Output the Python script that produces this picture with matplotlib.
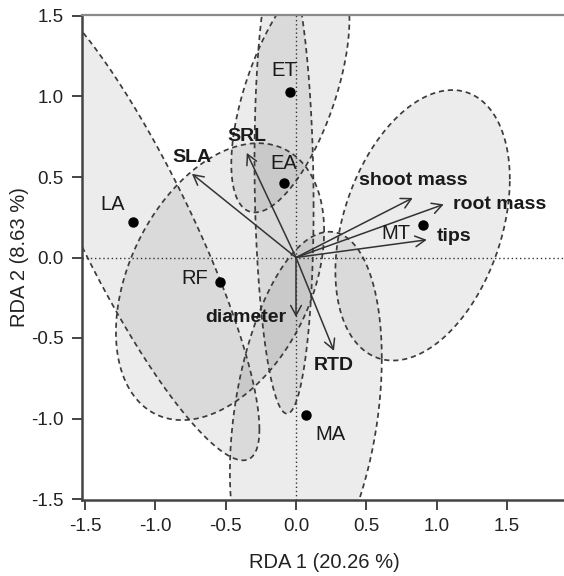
import numpy as np
import matplotlib.pyplot as plt

plt.rcParams['font.family'] = ['Liberation Sans', 'DejaVu Sans']

# group centroids (RDA site scores)
sites = ["ET", "EA", "LA", "RF", "MT", "MA"]
site_x = [-0.04, -0.085, -1.16, -0.54, 0.90, 0.07]
site_y = [1.03, 0.46, 0.22, -0.15, 0.20, -0.98]

# spread of each group ellipse: half extent in x, half extent in y, correlation
ell_sx = [0.42, 0.21, 0.90, 0.74, 0.62, 0.54]
ell_sy = [0.75, 1.43, 1.48, 0.86, 0.84, 1.14]
ell_rho = [0.60, -0.10, -0.87, 0.365, 0.34, 0.31]

# trait vectors
traits = ["SLA", "SRL", "shoot mass", "root mass", "tips", "diameter", "RTD"]
trait_x = [-0.74, -0.35, 0.83, 1.05, 0.93, 0.0, 0.27]
trait_y = [0.52, 0.65, 0.37, 0.33, 0.11, -0.37, -0.58]

ticks = [-1.5, -1.0, -0.5, 0.0, 0.5, 1.0, 1.5]

# label placement (pixels from point / arrow tip)
site_off = [(-6, 21), (0, 20), (-20, 18), (-25, 3), (-27, -8), (25, -19)]
trait_off = [(0, 16), (0, 16), (0, 17), (9, 0), (10, 3), (-10, 0), (0, -15)]
trait_ha = ["center", "center", "center", "left", "left", "right", "center"]

fig = plt.figure(figsize=(5.64, 5.76), dpi=100)
ax = fig.add_axes([82 / 564, 1 - 500 / 576, (564 - 82) / 564, (500 - 15) / 576])

t = np.linspace(0, 2 * np.pi, 300)
outlines = []
for cx, cy, sx, sy, r in zip(site_x, site_y, ell_sx, ell_sy, ell_rho):
    ex = cx + sx * np.cos(t)
    ey = cy + sy * (r * np.cos(t) + np.sqrt(1 - r ** 2) * np.sin(t))
    ax.fill(ex, ey, color=(0, 0, 0, 0.075), lw=0)
    outlines.append((ex, ey))
for ex, ey in outlines:
    ax.plot(ex, ey, color="#3c3c3c", lw=1.25, ls=(0, (3, 2.2)))

ax.axhline(0, color="#333333", lw=1.0, ls=(0, (1, 2)))
ax.axvline(0, color="#333333", lw=1.0, ls=(0, (1, 2)))

for name, x, y, off, ha in zip(traits, trait_x, trait_y, trait_off, trait_ha):
    ax.annotate("", xy=(x, y), xytext=(0, 0),
                arrowprops=dict(arrowstyle="->,head_length=0.6,head_width=0.32",
                                color="#333333", lw=1.1, mutation_scale=12,
                                shrinkA=0, shrinkB=0))
    ax.annotate(name, xy=(x, y), xytext=off, textcoords="offset pixels",
                ha=ha, va="center", fontsize=14, fontweight="bold", color="#1a1a1a")

ax.plot(site_x, site_y, "o", color="black", ms=6.5)
for name, x, y, off in zip(sites, site_x, site_y, site_off):
    ax.annotate(name, xy=(x, y), xytext=off, textcoords="offset pixels",
                ha="center", va="center", fontsize=14.5, color="#1a1a1a")

ax.set_xlim((82 - 296) / 140.67, (564 - 296) / 140.67)
ax.set_ylim((257.5 - 500) / 161, (257.5 - 15) / 161)
ax.set_xticks(ticks)
ax.set_yticks(ticks)
ax.set_xticklabels([f"{v:.1f}" for v in ticks])
ax.set_yticklabels([f"{v:.1f}" for v in ticks])
ax.tick_params(length=7, width=1.4, color="#444444", labelsize=13.5,
               labelcolor="#222222", pad=6)
ax.spines["right"].set_visible(False)
ax.spines["top"].set_color("#8a8a8a")
ax.spines["top"].set_linewidth(1.6)
for s in ["left", "bottom"]:
    ax.spines[s].set_color("#444444")
    ax.spines[s].set_linewidth(1.8)

fig.text(20 / 564, 1 - 257 / 576, "RDA 2 (8.63 %)", rotation=90,
         ha="center", va="center", fontsize=14.5, color="#222222")
fig.text(324 / 564, 1 - 563 / 576, "RDA 1 (20.26 %)",
         ha="center", va="center", fontsize=14.5, color="#222222")

fig.savefig("out.png", dpi=100)
